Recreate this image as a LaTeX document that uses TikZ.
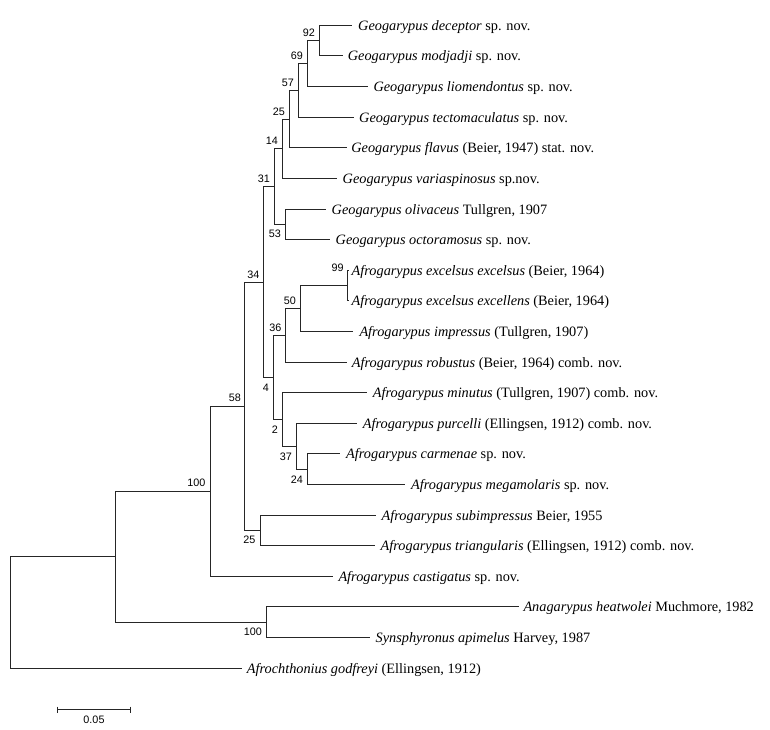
\documentclass[tikz,border=0pt]{standalone}
\usepackage{fontspec}
\usetikzlibrary{calc}
\setmainfont{Liberation Serif}
\newfontfamily\bsfont{Liberation Sans}
\begin{document}
\begin{tikzpicture}[x=1pt,y=-1pt,
  br/.style={draw=black!85, line width=1.3pt},
  taxon/.style={anchor=base west, inner sep=0pt, font=\fontsize{14.3}{16}\selectfont},
  bsu/.style={anchor=south east, inner sep=0pt, font=\bsfont\fontsize{10.8}{12}\selectfont},
  bsl/.style={anchor=north east, inner sep=0pt, font=\bsfont\fontsize{10.8}{12}\selectfont}]
\useasboundingbox (0,0) rectangle (770,729);
% internal nodes
\coordinate (root) at (10.5,612.5);
\coordinate (nin) at (115.5,556.5);
\coordinate (n100) at (210.5,491.5);
\coordinate (n58) at (244.5,406.5);
\coordinate (n25l) at (260.5,530.5);
\coordinate (n34) at (263.5,282.5);
\coordinate (n31) at (274.5,186.5);
\coordinate (n14) at (282.5,148.5);
\coordinate (n25u) at (289.5,119.5);
\coordinate (n57) at (298.5,90.5);
\coordinate (n69) at (307.5,63.5);
\coordinate (n92) at (319.5,40.5);
\coordinate (n53) at (285.5,224.5);
\coordinate (n4) at (273.5,377.5);
\coordinate (n36) at (285.5,335.5);
\coordinate (n50) at (300.5,308.5);
\coordinate (n99) at (347.5,285.5);
\coordinate (n2) at (282.5,419.5);
\coordinate (n37) at (296.5,446.5);
\coordinate (n24) at (307.5,469.5);
\coordinate (n100b) at (266.5,622.5);
% tips
\coordinate (t0) at (352,25.5);
\coordinate (t1) at (342.7,55.5);
\coordinate (t2) at (368.3,86.5);
\coordinate (t3) at (354,117.5);
\coordinate (t4) at (346.7,147.5);
\coordinate (t5) at (337,178.5);
\coordinate (t6) at (326,209.5);
\coordinate (t7) at (330,239.5);
\coordinate (t8) at (349,270.5);
\coordinate (t9) at (349,300.5);
\coordinate (t10) at (353.3,331.5);
\coordinate (t11) at (346.7,362.5);
\coordinate (t12) at (366.7,392.5);
\coordinate (t13) at (356.7,423.5);
\coordinate (t14) at (340,453.5);
\coordinate (t15) at (405,484.5);
\coordinate (t16) at (376,515.5);
\coordinate (t17) at (375,545.5);
\coordinate (t18) at (333.3,576.5);
\coordinate (t19) at (519.3,606.5);
\coordinate (t20) at (370,637.5);
\coordinate (t21) at (241.7,668.5);
% branches
\draw[br] (root) |- (nin); \draw[br] (root) |- (t21);
\draw[br] (nin) |- (n100); \draw[br] (nin) |- (n100b);
\draw[br] (n100b) |- (t19); \draw[br] (n100b) |- (t20);
\draw[br] (n100) |- (n58); \draw[br] (n100) |- (t18);
\draw[br] (n58) |- (n34); \draw[br] (n58) |- (n25l);
\draw[br] (n25l) |- (t16); \draw[br] (n25l) |- (t17);
\draw[br] (n34) |- (n31); \draw[br] (n34) |- (n4);
\draw[br] (n31) |- (n14); \draw[br] (n31) |- (n53);
\draw[br] (n53) |- (t6); \draw[br] (n53) |- (t7);
\draw[br] (n14) |- (n25u); \draw[br] (n14) |- (t5);
\draw[br] (n25u) |- (n57); \draw[br] (n25u) |- (t4);
\draw[br] (n57) |- (n69); \draw[br] (n57) |- (t3);
\draw[br] (n69) |- (n92); \draw[br] (n69) |- (t2);
\draw[br] (n92) |- (t0); \draw[br] (n92) |- (t1);
\draw[br] (n4) |- (n36); \draw[br] (n4) |- (n2);
\draw[br] (n36) |- (n50); \draw[br] (n36) |- (t11);
\draw[br] (n50) |- (n99); \draw[br] (n50) |- (t10);
\draw[br] (n99) |- (t8); \draw[br] (n99) |- (t9);
\draw[br] (n2) |- (t12); \draw[br] (n2) |- (n37);
\draw[br] (n37) |- (t13); \draw[br] (n37) |- (n24);
\draw[br] (n24) |- (t14); \draw[br] (n24) |- (t15);
% taxon labels
\node[taxon] (l0) at ([xshift=6pt,yshift=-4.7pt]t0) {\textit{Geogarypus deceptor} sp. nov.};
\node[taxon] (l1) at ([xshift=5pt,yshift=-4.7pt]t1) {\textit{Geogarypus modjadji} sp. nov.};
\node[taxon] (l2) at ([xshift=5pt,yshift=-4.7pt]t2) {\textit{Geogarypus liomendontus} sp. nov.};
\node[taxon] (l3) at ([xshift=5pt,yshift=-4.7pt]t3) {\textit{Geogarypus tectomaculatus} sp. nov.};
\node[taxon] (l4) at ([xshift=4.5pt,yshift=-4.7pt]t4) {\textit{Geogarypus flavus} (Beier, 1947) stat. nov.};
\node[taxon] (l5) at ([xshift=5.5pt,yshift=-4.7pt]t5) {\textit{Geogarypus variaspinosus} sp.nov.};
\node[taxon] (l6) at ([xshift=5.5pt,yshift=-4.7pt]t6) {\textit{Geogarypus olivaceus} Tullgren, 1907};
\node[taxon] (l7) at ([xshift=5.5pt,yshift=-4.7pt]t7) {\textit{Geogarypus octoramosus} sp. nov.};
\node[taxon] (l8) at ([xshift=2.5pt,yshift=-4.7pt]t8) {\textit{Afrogarypus excelsus excelsus} (Beier, 1964)};
\node[taxon] (l9) at ([xshift=2.5pt,yshift=-4.7pt]t9) {\textit{Afrogarypus excelsus excellens} (Beier, 1964)};
\node[taxon] (l10) at ([xshift=6pt,yshift=-4.7pt]t10) {\textit{Afrogarypus impressus} (Tullgren, 1907)};
\node[taxon] (l11) at ([xshift=5pt,yshift=-4.7pt]t11) {\textit{Afrogarypus robustus} (Beier, 1964) comb. nov.};
\node[taxon] (l12) at ([xshift=6pt,yshift=-4.7pt]t12) {\textit{Afrogarypus minutus} (Tullgren, 1907) comb. nov.};
\node[taxon] (l13) at ([xshift=6pt,yshift=-4.7pt]t13) {\textit{Afrogarypus purcelli} (Ellingsen, 1912) comb. nov.};
\node[taxon] (l14) at ([xshift=6pt,yshift=-4.7pt]t14) {\textit{Afrogarypus carmenae} sp. nov.};
\node[taxon] (l15) at ([xshift=6pt,yshift=-4.7pt]t15) {\textit{Afrogarypus megamolaris} sp. nov.};
\node[taxon] (l16) at ([xshift=5.5pt,yshift=-4.7pt]t16) {\textit{Afrogarypus subimpressus} Beier, 1955};
\node[taxon] (l17) at ([xshift=5.5pt,yshift=-4.7pt]t17) {\textit{Afrogarypus triangularis} (Ellingsen, 1912) comb. nov.};
\node[taxon] (l18) at ([xshift=5pt,yshift=-4.7pt]t18) {\textit{Afrogarypus castigatus} sp. nov.};
\node[taxon] (l19) at ([xshift=4pt,yshift=-4.7pt]t19) {\textit{Anagarypus heatwolei} Muchmore, 1982};
\node[taxon] (l20) at ([xshift=5.5pt,yshift=-4.7pt]t20) {\textit{Synsphyronus apimelus} Harvey, 1987};
\node[taxon] (l21) at ([xshift=5pt,yshift=-4.7pt]t21) {\textit{Afrochthonius godfreyi} (Ellingsen, 1912)};
% bootstrap values
\node[bsu] (b92) at ([xshift=-4.5pt,yshift=4pt]n92) {92};
\node[bsu] (b69) at ([xshift=-4.5pt,yshift=4pt]n69) {69};
\node[bsu] (b57) at ([xshift=-4.5pt,yshift=4pt]n57) {57};
\node[bsu] (b25u) at ([xshift=-4.5pt,yshift=4pt]n25u) {25};
\node[bsu] (b14) at ([xshift=-4.5pt,yshift=4pt]n14) {14};
\node[bsu] (b31) at ([xshift=-4.5pt,yshift=4pt]n31) {31};
\node[bsl] (b53) at ([xshift=-4.5pt,yshift=-5.5pt]n53) {53};
\node[bsu] (b34) at ([xshift=-4pt,yshift=4pt]n34) {34};
\node[bsu] (b99) at ([xshift=-3.7pt,yshift=13.6pt]n99) {99};
\node[bsu] (b50) at ([xshift=-4.5pt,yshift=4pt]n50) {50};
\node[bsu] (b36) at ([xshift=-4pt,yshift=4pt]n36) {36};
\node[bsl] (b4) at ([xshift=-4.5pt,yshift=-6.3pt]n4) {4};
\node[bsl] (b2) at ([xshift=-4.5pt,yshift=-6.3pt]n2) {2};
\node[bsl] (b37) at ([xshift=-4.5pt,yshift=-6.3pt]n37) {37};
\node[bsl] (b24) at ([xshift=-4.5pt,yshift=-6pt]n24) {24};
\node[bsu] (b58) at ([xshift=-3.5pt,yshift=4.5pt]n58) {58};
\node[bsl] (b25l) at ([xshift=-5pt,yshift=-5.7pt]n25l) {25};
\node[bsu] (b100) at ([xshift=-5pt,yshift=4.5pt]n100) {100};
\node[bsl] (b100b) at ([xshift=-4.4pt,yshift=-5pt]n100b) {100};
% scale bar
\coordinate (s0) at (57.5,709.5);
\coordinate (s1) at (130.5,709.5);
\draw[br, line width=1.1pt] (s0) -- (s1);
\draw[br, line width=1.1pt] ([yshift=3pt]s0) -- ([yshift=-3pt]s0);
\draw[br, line width=1.1pt] ([yshift=3pt]s1) -- ([yshift=-3pt]s1);
\node[anchor=north, inner sep=0pt, font=\bsfont\fontsize{10.8}{12}\selectfont] (sl) at ([yshift=-6.5pt]$(s0)!0.5!(s1)$) {0.05};
\end{tikzpicture}
\end{document}
